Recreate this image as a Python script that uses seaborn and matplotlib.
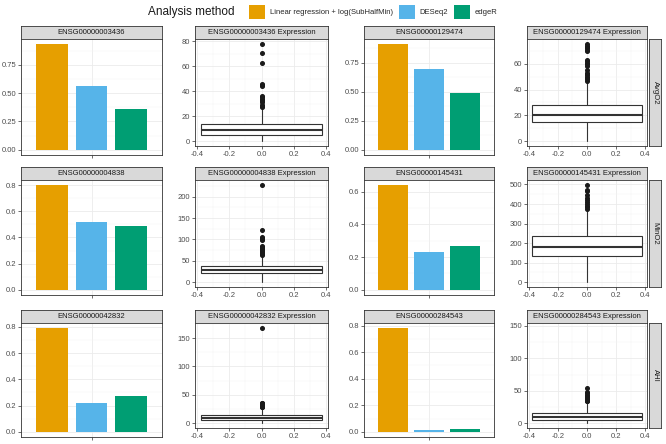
import numpy as np
import pandas as pd
import matplotlib
matplotlib.use('Agg')
import matplotlib.pyplot as plt
import seaborn as sns
from matplotlib.patches import Patch
from matplotlib.ticker import MultipleLocator, NullLocator, FormatStrFormatter

# ===============================
# Data
# ===============================
methods = ['Linear regression + log(SubHalfMin)', 'DESeq2', 'edgeR']
method_colors = ['#E69F00', '#56B4E9', '#009E73']
traits = ['AvgO2', 'MinO2', 'AHI']

genes = ['ENSG00000003436', 'ENSG00000129474',
         'ENSG00000004838', 'ENSG00000145431',
         'ENSG00000042832', 'ENSG00000284543']

# bar heights per gene
bar_lr = [0.93, 0.91, 0.80, 0.64, 0.79, 0.78]
bar_deseq2 = [0.56, 0.70, 0.52, 0.23, 0.22, 0.01]
bar_edger = [0.36, 0.49, 0.49, 0.27, 0.27, 0.02]
bar_tick_step = [0.25, 0.25, 0.2, 0.2, 0.2, 0.2]
bar_decimals = [2, 2, 1, 1, 1, 1]

# expression boxplot summaries per gene
box_q1 = [5, 15, 21, 133, 6, 5]
box_med = [9, 20.5, 28, 182, 10, 9]
box_q3 = [13.5, 28, 38, 235, 15, 15]
box_whislo = [0, 0, 0, 0, 0, 0]
box_whishi = [26, 46, 62, 368, 27, 33]
box_fliers = [
    [27, 28, 29, 31, 32, 33, 34, 35, 36, 44, 45, 46, 63, 71, 78],
    [47, 48, 49, 50, 51, 52, 53, 55, 58, 60, 61, 62, 63, 70, 71, 72, 73, 74, 75.5],
    [64, 66, 68, 70, 72, 75, 78, 80, 82, 84, 98, 100, 102, 104, 106, 122, 228],
    [375, 385, 392, 400, 410, 420, 432, 445, 465, 470, 498],
    [28, 29, 30, 31, 32, 33, 34, 35, 36, 168],
    [34, 35, 36, 37, 38, 40, 42, 44, 46, 48, 55],
]
box_ytop = [78, 75.5, 228, 498, 168, 147]
box_tick_step = [20, 20, 50, 100, 50, 50]

# ===============================
# Style
# ===============================
sns.set_style('white')
plt.rcParams['font.family'] = ['Liberation Sans', 'DejaVu Sans']
plt.rcParams['axes.unicode_minus'] = False

W, H = 666, 444
fig = plt.figure(figsize=(W / 100, H / 100), dpi=100)

col_x = [(21, 162), (195, 328), (364, 494), (527, 647)]
strip_top = [26, 167, 310]
strip_h = 13
bar_bottom = [155, 295, 437]
box_bottom = [146, 287, 428]


def px_axes(x0, x1, y0, y1):
    return fig.add_axes([x0 / W, 1 - y1 / H, (x1 - x0) / W, (y1 - y0) / H])


def add_strip(x0, x1, y0, y1, label, rotation=0):
    sax = px_axes(x0, x1, y0, y1)
    sax.set_facecolor('#D9D9D9')
    sax.set_xticks([])
    sax.set_yticks([])
    for s in sax.spines.values():
        s.set_color('#333333')
        s.set_linewidth(0.6)
    sax.text(0.5, 0.5, label, ha='center', va='center', rotation=rotation,
             fontsize=5.5, color='#1A1A1A', transform=sax.transAxes)


def style_panel(ax):
    ax.set_facecolor('white')
    for s in ax.spines.values():
        s.set_visible(True)
        s.set_color('#333333')
        s.set_linewidth(0.6)
    ax.grid(True, which='major', color='#EBEBEB', linewidth=0.6)
    ax.grid(True, which='minor', color='#F3F3F3', linewidth=0.35)
    ax.set_axisbelow(True)
    ax.tick_params(which='major', length=2, width=0.5, color='#333333',
                   labelsize=5.5, labelcolor='#4D4D4D', pad=1.5,
                   bottom=True, left=True)
    ax.tick_params(which='minor', length=0)
    ax.set_xlabel('')
    ax.set_ylabel('')


# ===============================
# Panels
# ===============================
for i, gene in enumerate(genes):
    r = i // 2
    c_bar = 2 * (i % 2)
    c_box = c_bar + 1
    y0 = strip_top[r] + strip_h

    # --- bar chart
    x0, x1 = col_x[c_bar]
    add_strip(x0, x1, strip_top[r], y0, gene)
    ax = px_axes(x0, x1, y0, bar_bottom[r])
    vals = [bar_lr[i], bar_deseq2[i], bar_edger[i]]
    df = pd.DataFrame({'gene': [gene] * 3, 'method': methods, 'value': vals})
    sns.barplot(data=df, x='gene', y='value', hue='method', hue_order=methods,
                palette=method_colors, width=1.0, gap=0.19, errorbar=None,
                legend=False, linewidth=0, saturation=1, ax=ax)
    style_panel(ax)
    ax.set_xlim(-0.6, 0.6)
    top = max(vals)
    ax.set_ylim(-0.05 * top, 1.05 * top)
    ax.yaxis.set_major_locator(MultipleLocator(bar_tick_step[i]))
    ax.yaxis.set_minor_locator(MultipleLocator(bar_tick_step[i] / 2))
    ax.yaxis.set_major_formatter(FormatStrFormatter('%.' + str(bar_decimals[i]) + 'f'))
    ax.set_xticks([0])
    ax.set_xticklabels([''])
    ax.xaxis.set_minor_locator(NullLocator())
    ax.xaxis.grid(True, which='major', color='#EBEBEB', linewidth=0.6)

    # --- expression boxplot
    x0, x1 = col_x[c_box]
    add_strip(x0, x1, strip_top[r], y0, gene + ' Expression')
    ax = px_axes(x0, x1, y0, box_bottom[r])
    stats = [dict(med=box_med[i], q1=box_q1[i], q3=box_q3[i],
                  whislo=box_whislo[i], whishi=box_whishi[i],
                  fliers=box_fliers[i])]
    ax.bxp(stats, positions=[0], widths=0.75, showcaps=False, patch_artist=True,
           boxprops=dict(facecolor='white', edgecolor='#333333', linewidth=0.8),
           medianprops=dict(color='#333333', linewidth=1.5),
           whiskerprops=dict(color='#333333', linewidth=0.8),
           flierprops=dict(marker='o', markerfacecolor='#1A1A1A',
                           markeredgecolor='#1A1A1A', markersize=2.6,
                           linestyle='none'),
           manage_ticks=False)
    style_panel(ax)
    ax.set_xlim(-0.4125, 0.4125)
    yt = box_ytop[i]
    ax.set_ylim(-0.05 * yt, 1.05 * yt)
    ax.xaxis.set_major_locator(MultipleLocator(0.2))
    ax.xaxis.set_minor_locator(MultipleLocator(0.1))
    ax.xaxis.set_major_formatter(FormatStrFormatter('%.1f'))
    ax.yaxis.set_major_locator(MultipleLocator(box_tick_step[i]))
    ax.yaxis.set_minor_locator(MultipleLocator(box_tick_step[i] / 2))

    if c_box == 3:
        add_strip(649, 661, y0, box_bottom[r], traits[r], rotation=-90)

# ===============================
# Legend
# ===============================
fig.text(148 / W, 1 - 12 / H, 'Analysis method', ha='left', va='center',
         fontsize=8.5, color='#1A1A1A')
handles = [Patch(facecolor=col, edgecolor='none') for col in method_colors]
fig.legend(handles, methods, ncol=3, loc='center left',
           bbox_to_anchor=(249 / W, 1 - 12 / H), frameon=False, fontsize=5.5,
           handlelength=2.1, handleheight=2.3, handletextpad=0.6,
           columnspacing=0.8, borderaxespad=0, borderpad=0)

fig.savefig('out.png', dpi=100)
